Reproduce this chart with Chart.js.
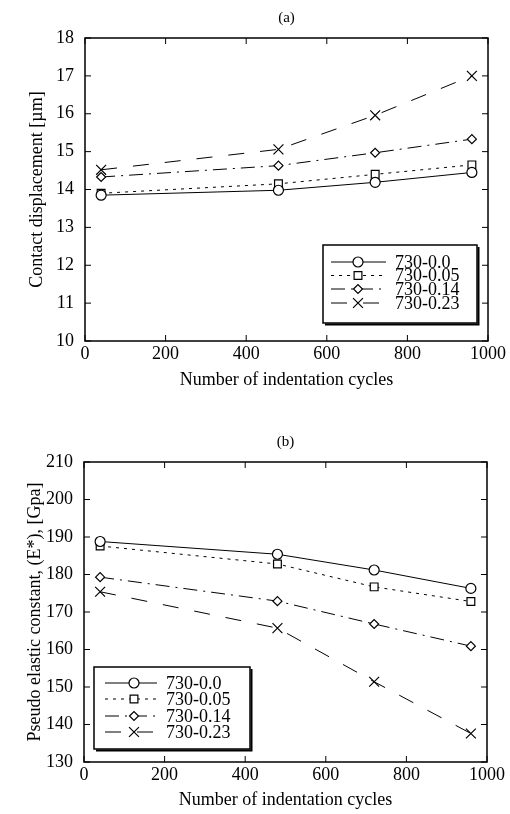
<!DOCTYPE html>
<html>
<head>
<meta charset="utf-8">
<script src="https://cdn.jsdelivr.net/npm/chart.js@4.4.0/dist/chart.umd.min.js"></script>
<style>
  body { margin: 0; background: #fff; }
  #wrap { position: relative; width: 510px; height: 814px; }
  .box { position: absolute; left: 0; width: 510px; }
</style>
</head>
<body>
<div id="wrap">
  <div class="box" style="top:0;height:400px"><canvas id="chart-a"></canvas></div>
  <div class="box" style="top:400px;height:414px"><canvas id="chart-b"></canvas></div>
</div>
<script>
// Values
const cycles = [40, 480, 720, 960];
const seriesNames = ['730-0.0', '730-0.05', '730-0.14', '730-0.23'];

// (a) contact displacement [um]
const dispA00 = [13.85, 13.98, 14.19, 14.45];
const dispA05 = [13.90, 14.15, 14.40, 14.65];
const dispA14 = [14.33, 14.63, 14.97, 15.33];
const dispA23 = [14.52, 15.06, 15.96, 17.00];

// (b) pseudo elastic constant [GPa]
const elasB00 = [188.8, 185.4, 181.2, 176.3];
const elasB05 = [187.6, 182.8, 176.7, 172.8];
const elasB14 = [179.3, 172.9, 166.8, 160.9];
const elasB23 = [175.4, 165.7, 151.4, 137.6];

const xTicks = [0, 200, 400, 600, 800, 1000];
const yTicksA = [10, 11, 12, 13, 14, 15, 16, 17, 18];
const yTicksB = [130, 140, 150, 160, 170, 180, 190, 200, 210];

const SERIF = '"Liberation Serif", "DejaVu Serif", serif';

// line / marker styles per series
const styles = [
    { dash: [], pointStyle: 'circle', radius: 5 },
    { dash: [3, 5], pointStyle: 'rect', radius: 5.5 },
    { dash: [14, 6, 2, 6], pointStyle: 'rectRot', radius: 4.5 },
    { dash: [16, 16], pointStyle: 'crossRot', radius: 7 }
];

function makeDatasets(seriesList) {
    return seriesList.map((values, i) => ({
        label: seriesNames[i],
        data: values.map((v, j) => ({ x: cycles[j], y: v })),
        borderColor: '#000',
        borderWidth: 1,
        borderDash: styles[i].dash,
        pointStyle: styles[i].pointStyle,
        pointRadius: styles[i].radius,
        pointBorderWidth: 1.2,
        pointBackgroundColor: '#fff',
        pointBorderColor: '#000',
        fill: false,
        tension: 0
    }));
}

// frame with inward ticks on all four sides, plus the panel label
const framePlugin = {
    id: 'frame',
    afterDatasetsDraw(chart, args, opts) {
        const { ctx, chartArea: a, scales } = chart;
        ctx.save();
        ctx.strokeStyle = '#000';
        ctx.lineWidth = 1.5;
        ctx.setLineDash([]);
        ctx.strokeRect(a.left, a.top, a.right - a.left, a.bottom - a.top);
        ctx.lineWidth = 1;
        const len = 6;
        ctx.beginPath();
        scales.x.ticks.forEach(t => {
            const px = scales.x.getPixelForValue(t.value);
            ctx.moveTo(px, a.bottom); ctx.lineTo(px, a.bottom - len);
            ctx.moveTo(px, a.top); ctx.lineTo(px, a.top + len);
        });
        scales.y.ticks.forEach(t => {
            const py = scales.y.getPixelForValue(t.value);
            ctx.moveTo(a.left, py); ctx.lineTo(a.left + len, py);
            ctx.moveTo(a.right, py); ctx.lineTo(a.right - len, py);
        });
        ctx.stroke();
        // panel label
        ctx.fillStyle = '#000';
        ctx.font = '15px ' + SERIF;
        ctx.textAlign = 'center';
        ctx.textBaseline = 'middle';
        ctx.fillText(opts.label, (a.left + a.right) / 2, opts.labelY);
        ctx.restore();
    }
};

// boxed legend inside the plot area
const boxLegendPlugin = {
    id: 'boxLegend',
    afterDraw(chart, args, opts) {
        const { ctx } = chart;
        const b = opts.box;
        ctx.save();
        ctx.fillStyle = '#fff';
        ctx.fillRect(b.x, b.y, b.w, b.h);
        ctx.strokeStyle = '#000';
        ctx.lineWidth = 1.5;
        ctx.setLineDash([]);
        ctx.strokeRect(b.x, b.y, b.w, b.h);
        ctx.lineWidth = 2;
        ctx.beginPath();
        ctx.moveTo(b.x + 2, b.y + b.h + 1.5);
        ctx.lineTo(b.x + b.w + 1.5, b.y + b.h + 1.5);
        ctx.lineTo(b.x + b.w + 1.5, b.y + 2);
        ctx.stroke();

        chart.data.datasets.forEach((ds, i) => {
            const y = opts.rows[i];
            ctx.strokeStyle = '#000';
            ctx.lineWidth = 1;
            ctx.setLineDash(ds.borderDash);
            ctx.beginPath();
            ctx.moveTo(opts.lineX0, y);
            ctx.lineTo(opts.lineX1, y);
            ctx.stroke();
            ctx.setLineDash([]);
            ctx.fillStyle = '#fff';
            ctx.lineWidth = 1.2;
            Chart.helpers.drawPoint(ctx, {
                pointStyle: ds.pointStyle,
                radius: ds.pointRadius,
                rotation: 0,
                borderWidth: 1.2
            }, opts.markX, y);
            ctx.fillStyle = '#000';
            ctx.font = '18px ' + SERIF;
            ctx.textAlign = 'left';
            ctx.textBaseline = 'middle';
            ctx.fillText(ds.label, opts.textX, y + 1);
        });
        ctx.restore();
    }
};

function buildChart(canvasId, seriesList, cfg) {
    const ctx = document.getElementById(canvasId).getContext('2d');
    return new Chart(ctx, {
        type: 'line',
        data: { datasets: makeDatasets(seriesList) },
        options: {
            responsive: true,
            maintainAspectRatio: false,
            animation: false,
            layout: { padding: { top: cfg.padTop, right: cfg.padRight, left: 0, bottom: 0 } },
            scales: {
                x: {
                    type: 'linear',
                    min: xTicks[0],
                    max: xTicks[xTicks.length - 1],
                    afterBuildTicks: s => { s.ticks = xTicks.map(v => ({ value: v })); },
                    grid: { display: false, drawTicks: false },
                    border: { display: false },
                    ticks: {
                        color: '#000', padding: 2, maxRotation: 0,
                        font: { family: SERIF, size: 18 },
                        callback: v => String(v)
                    },
                    title: {
                        display: true,
                        text: 'Number of indentation cycles',
                        color: '#000',
                        font: { family: SERIF, size: 18, lineHeight: 1.2 },
                        padding: { top: 0, bottom: cfg.xTitlePad }
                    },
                    afterFit: s => { s.height = cfg.xHeight; }
                },
                y: {
                    type: 'linear',
                    min: cfg.yTicks[0],
                    max: cfg.yTicks[cfg.yTicks.length - 1],
                    afterBuildTicks: s => { s.ticks = cfg.yTicks.map(v => ({ value: v })); },
                    grid: { display: false, drawTicks: false },
                    border: { display: false },
                    ticks: {
                        color: '#000', padding: 11,
                        font: { family: SERIF, size: 18 },
                        callback: v => String(v)
                    },
                    title: {
                        display: true,
                        text: cfg.yTitle,
                        color: '#000',
                        font: { family: SERIF, size: 18, lineHeight: 1.2 },
                        padding: { top: cfg.yTitlePad, bottom: 0 }
                    },
                    afterFit: s => { s.width = cfg.yWidth; }
                }
            },
            plugins: {
                legend: { display: false },
                tooltip: { enabled: false },
                frame: { label: cfg.label, labelY: cfg.labelY },
                boxLegend: cfg.legend
            }
        },
        plugins: [framePlugin, boxLegendPlugin]
    });
}

buildChart('chart-a', [dispA00, dispA05, dispA14, dispA23], {
    label: '(a)', labelY: 18,
    padTop: 38, padRight: 22, xHeight: 59, xTitlePad: 9, yWidth: 85, yTitlePad: 26,
    yTicks: yTicksA,
    yTitle: 'Contact displacement [\u00b5m]',
    legend: {
        box: { x: 323, y: 245, w: 154, h: 78 },
        rows: [262, 275.5, 289, 303],
        lineX0: 331, lineX1: 386, markX: 358, textX: 395
    }
});

buildChart('chart-b', [elasB00, elasB05, elasB14, elasB23], {
    label: '(b)', labelY: 42,
    padTop: 62, padRight: 23, xHeight: 52, xTitlePad: 3, yWidth: 84, yTitlePad: 24,
    yTicks: yTicksB,
    yTitle: 'Pseudo elastic constant, (E*), [Gpa]',
    legend: {
        box: { x: 94, y: 267, w: 156, h: 82 },
        rows: [283, 299, 316, 332],
        lineX0: 105, lineX1: 157, markX: 134, textX: 166
    }
});
</script>
</body>
</html>
